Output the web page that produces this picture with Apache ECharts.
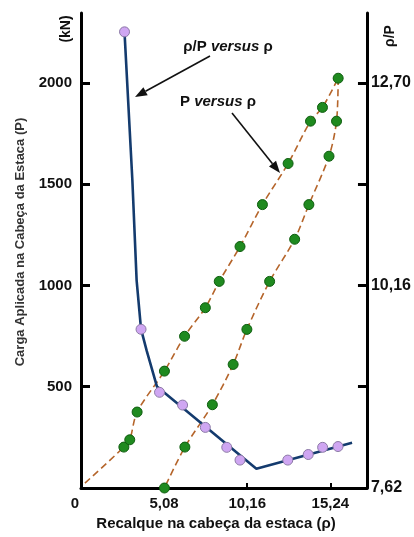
<!DOCTYPE html>
<html>
<head>
<meta charset="utf-8">
<script src="https://cdn.jsdelivr.net/npm/echarts@6/dist/echarts.min.js"></script>
<style>html,body{margin:0;padding:0;background:#fff}#c{width:414px;height:537px}</style>
</head>
<body>
<div id="c"></div>
<script>
// ---- data ----
// P versus rho : loading branch (measured points)
const rhoLoad = [2.62, 2.98, 3.43, 5.10, 6.33, 7.60, 8.45, 9.72, 11.09, 12.66, 14.03, 14.76, 15.72];
const pLoad   = [202, 238, 375, 577, 749, 890, 1020, 1192, 1399, 1602, 1811, 1879, 2023];
// start of the dashed loading curve (no marker)
const rhoLoadStart = [0.24];
const pLoadStart = [24];
// P versus rho : unloading branch
const rhoUnload = [15.72, 15.62, 15.16, 13.93, 13.06, 11.53, 10.14, 9.30, 8.03, 6.35, 5.10];
const pUnload   = [2023, 1811, 1638, 1399, 1228, 1020, 783, 610, 411, 202, 0];
// rho/P versus rho : fitted line vertices
const rhoRatioLineX = [2.66, 3.14, 3.40, 3.67, 4.01, 4.64, 10.72, 16.57];
const rhoRatioLineY = [13.336, 11.479, 10.224, 9.613, 9.345, 8.894, 7.861, 8.187];
// rho/P versus rho : measured points
const rhoRatioPtsX = [2.66, 3.67, 4.80, 6.21, 7.60, 8.91, 9.72, 12.64, 13.89, 14.77, 15.71];
const rhoRatioPtsY = [13.34, 9.61, 8.82, 8.66, 8.38, 8.13, 7.97, 7.97, 8.04, 8.13, 8.14];
// axes ticks
const xTicks = [0, 5.08, 10.16, 15.24];
const pTicks = [500, 1000, 1500, 2000];
const ratioTicks = [8.89, 10.16, 11.43, 12.70];
const ratioLabels = [7.62, 10.16, 12.70];

const FONT = "'Liberation Sans', Arial, sans-serif";
const zip = (a, b) => a.map((v, i) => [v, b[i]]);
const fmt = v => (Math.abs(v) < 1e-9 ? '{z|0}' : v.toFixed(2).replace('.', ','));

const chart = echarts.init(document.getElementById('c'), null, {renderer: 'canvas'});

function arrow(x1, y1, x2, y2) {
  const ang = Math.atan2(y2 - y1, x2 - x1);
  const L = 12, W = 4.5;
  const bx = x2 - L * Math.cos(ang), by = y2 - L * Math.sin(ang);
  const px = -Math.sin(ang) * W, py = Math.cos(ang) * W;
  return [
    {type: 'line', shape: {x1: x1, y1: y1, x2: bx, y2: by}, style: {stroke: '#111', lineWidth: 1.6}},
    {type: 'polygon', shape: {points: [[x2, y2], [bx + px, by + py], [bx - px, by - py]]}, style: {fill: '#111'}}
  ];
}

const labelStyle = {fontFamily: FONT, fontSize: 15, fontWeight: 'bold', color: '#111'};

const option = {
  animation: false,
  grid: {left: 81, right: 44, top: 13, bottom: 49, containLabel: false},
  xAxis: {
    type: 'value', min: 0, max: 17.48, interval: 5.08,
    axisLine: {lineStyle: {color: '#000', width: 3}},
    axisTick: {inside: true, length: 5, lineStyle: {color: '#000', width: 2}, customValues: xTicks.slice(1)},
    axisLabel: Object.assign({customValues: xTicks, formatter: fmt, margin: 8,
      rich: {z: {fontFamily: FONT, fontSize: 15, fontWeight: 'bold', color: '#111', padding: [0, 12, 0, 0]}}}, labelStyle),
    splitLine: {show: false}
  },
  yAxis: [{
    type: 'value', min: 0, max: 2345, interval: 500, position: 'left',
    axisLine: {show: true, lineStyle: {color: '#000', width: 3}},
    axisTick: {show: true, inside: true, length: 9, lineStyle: {color: '#000', width: 3}, customValues: pTicks},
    axisLabel: Object.assign({customValues: pTicks, formatter: v => String(Math.round(v)), margin: 9}, labelStyle),
    splitLine: {show: false}
  }, {
    type: 'value', min: 7.62, max: 13.5763, interval: 1.27, position: 'right',
    axisLine: {show: true, lineStyle: {color: '#000', width: 3}},
    axisTick: {show: true, inside: true, length: 9, lineStyle: {color: '#000', width: 3}, customValues: ratioTicks},
    axisLabel: {customValues: ratioLabels, formatter: fmt, fontFamily: FONT, fontSize: 16, fontWeight: 'bold', color: '#111', margin: 4},
    splitLine: {show: false}
  }],
  series: [
    {
      name: 'P carga', type: 'line', yAxisIndex: 0, smooth: 0.3, showSymbol: false, z: 2,
      data: zip(rhoLoadStart.concat(rhoLoad), pLoadStart.concat(pLoad)),
      lineStyle: {color: '#b5652b', width: 1.6, type: [7, 4]}
    },
    {
      name: 'P descarga', type: 'line', yAxisIndex: 0, smooth: 0.3, showSymbol: false, z: 2,
      data: zip(rhoUnload, pUnload),
      lineStyle: {color: '#b5652b', width: 1.6, type: [7, 4]}
    },
    {
      name: 'rho/P', type: 'line', yAxisIndex: 1, showSymbol: false, z: 3,
      data: zip(rhoRatioLineX, rhoRatioLineY),
      lineStyle: {color: '#143b6e', width: 2.6}
    },
    {
      name: 'P pts', type: 'scatter', yAxisIndex: 0, z: 4, symbolSize: 10,
      data: zip(rhoLoad, pLoad).concat(zip(rhoUnload.slice(1), pUnload.slice(1))),
      itemStyle: {color: '#1f8a1f', borderColor: '#0e5c0e', borderWidth: 1, opacity: 1}
    },
    {
      name: 'rho/P pts', type: 'scatter', yAxisIndex: 1, z: 5, symbolSize: 10,
      data: zip(rhoRatioPtsX, rhoRatioPtsY),
      itemStyle: {color: '#cfa6f2', borderColor: '#8c7aa6', borderWidth: 1, opacity: 1}
    }
  ],
  graphic: [
    {type: 'text', x: 20, y: 242, rotation: Math.PI / 2,
     style: {text: 'Carga Aplicada na Cabeça da Estaca (P)', font: 'bold 13px ' + FONT, fill: '#333', align: 'center', verticalAlign: 'middle'}},
    {type: 'text', x: 216, y: 524,
     style: {text: 'Recalque na cabeça da estaca (ρ)', font: 'bold 15px ' + FONT, fill: '#111', align: 'center', verticalAlign: 'middle'}},
    {type: 'text', x: 66, y: 29, rotation: Math.PI / 2,
     style: {text: '(kN)', font: 'bold 14px ' + FONT, fill: '#111', align: 'center', verticalAlign: 'middle'}},
    {type: 'text', x: 390, y: 36, rotation: Math.PI / 2,
     style: {text: 'ρ/P', font: 'bold 14px ' + FONT, fill: '#111', align: 'center', verticalAlign: 'middle'}},
    {type: 'text', x: 228, y: 47,
     style: {text: '{a|ρ/P }{b|versus}{a| ρ}', align: 'center', verticalAlign: 'middle',
       rich: {a: {font: 'bold 15px ' + FONT, fill: '#111'}, b: {font: 'italic bold 15px ' + FONT, fill: '#111'}}}},
    {type: 'text', x: 218, y: 102,
     style: {text: '{a|P }{b|versus}{a| ρ}', align: 'center', verticalAlign: 'middle',
       rich: {a: {font: 'bold 15px ' + FONT, fill: '#111'}, b: {font: 'italic bold 15px ' + FONT, fill: '#111'}}}}
  ].concat(arrow(210, 56, 135, 97), arrow(232, 113, 280, 173))
};
chart.setOption(option);
</script>
</body>
</html>
